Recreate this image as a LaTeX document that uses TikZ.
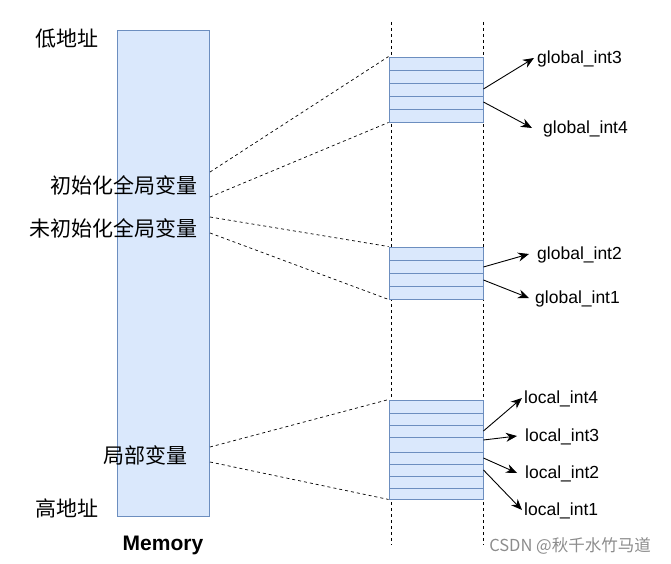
\documentclass[tikz,border=0pt]{standalone}
\usepackage{fontspec}
\setmainfont{Liberation Sans}
\newfontfamily\cjk{Noto Sans CJK SC}
\usetikzlibrary{arrows.meta}
\definecolor{memfill}{HTML}{DAE8FC}
\definecolor{memline}{HTML}{6C8EBF}
\tikzset{
  membox/.style={draw=memline, fill=memfill, line width=0.9pt, inner sep=0pt, minimum width=92pt},
  stackbox/.style={draw=memline, fill=memfill, line width=0.9pt, inner sep=0pt, minimum width=94pt},
  rowline/.style={draw=memline, line width=0.9pt},
  dashln/.style={draw=black, dash pattern=on 3pt off 3pt, line width=0.7pt},
  cnlabel/.style={font=\cjk\fontsize{21}{24}\selectfont, inner sep=0pt},
  varlabel/.style={font=\fontsize{17.5}{20}\selectfont, inner sep=2pt, anchor=west},
  ptr/.style={-{Stealth[length=11pt,width=9pt]}, line width=0.9pt, black},
}
\begin{document}
\begin{tikzpicture}[x=1pt,y=-1pt]
\useasboundingbox (0,0) rectangle (671,564);
% vertical dashed guides
\coordinate (gl1) at (391,22);
\coordinate (gl2) at (391,545);
\coordinate (gr1) at (483,22);
\coordinate (gr2) at (483,545);
\draw[dashln] (gl1) -- (gl2);
\draw[dashln] (gr1) -- (gr2);

% memory bar
\node[membox, minimum height=486pt] (mem) at (163,273) {};
\node[font=\bfseries\fontsize{21}{24}\selectfont, inner sep=0pt] (memt) at (163,545) {Memory};

% stacks
\node[stackbox, minimum height=65pt] (s1) at (436,89.5) {};
\foreach \y in {70,83,96,109} \draw[rowline] (389,\y) -- (483,\y);
\node[stackbox, minimum height=52pt] (s2) at (436,273) {};
\foreach \y in {260,273,286} \draw[rowline] (389,\y) -- (483,\y);
\node[stackbox, minimum height=99pt] (s3) at (436,449.5) {};
\foreach \y in {413,425,437,452,464,476,488} \draw[rowline] (389,\y) -- (483,\y);

% left labels
\node[cnlabel] (low) at (66.5,39) {低地址};
\node[cnlabel] (high) at (66.5,508) {高地址};
\node[cnlabel, anchor=east] (init) at (198,185) {初始化全局变量};
\node[cnlabel, anchor=east] (uninit) at (198,228) {未初始化全局变量};
\node[cnlabel] (local) at (145,455) {局部变量};

% dashed connectors
\coordinate (i1) at (210,172);
\coordinate (i2) at (210,197);
\coordinate (u1) at (210,217);
\coordinate (u2) at (210,233);
\coordinate (l1) at (210,447);
\coordinate (l2) at (210,462);
\draw[dashln] (i1) -- (s1.north west);
\draw[dashln] (i2) -- (s1.south west);
\draw[dashln] (u1) -- (s2.north west);
\draw[dashln] (u2) -- (s2.south west);
\draw[dashln] (l1) -- (s3.north west);
\draw[dashln] (l2) -- (s3.south west);

% variable labels
\node[varlabel] (g3) at (535,59) {global\_int3};
\node[varlabel] (g4) at (541,129) {global\_int4};
\node[varlabel] (g2) at (535,255) {global\_int2};
\node[varlabel] (g1) at (533,299) {global\_int1};
\node[varlabel] (li4) at (522,399) {local\_int4};
\node[varlabel] (li3) at (523,437) {local\_int3};
\node[varlabel] (li2) at (523,474) {local\_int2};
\node[varlabel] (li1) at (522,511) {local\_int1};

% arrows (yshift is upward on the canvas)
\draw[ptr] ([yshift=0.5pt]s1.east) -- ([xshift=-1pt,yshift=1pt]g3.west);
\draw[ptr] ([yshift=-12.5pt]s1.east) -- ([xshift=-9pt,yshift=1pt]g4.west);
\draw[ptr] ([yshift=6pt]s2.east) -- ([xshift=-6pt,yshift=1pt]g2.west);
\draw[ptr] ([yshift=-7pt]s2.east) -- ([xshift=-4pt,yshift=1pt]g1.west);
\draw[ptr] ([yshift=18.5pt]s3.east) -- ([yshift=1pt]li4.west);
\draw[ptr] ([yshift=9.5pt]s3.east) -- ([xshift=-6pt,yshift=1pt]li3.west);
\draw[ptr] ([yshift=-8.5pt]s3.east) -- ([xshift=-6pt,yshift=1pt]li2.west);
\draw[ptr] ([yshift=-20.5pt]s3.east) -- ([yshift=1pt]li1.west);

% watermark
\node[font=\cjk\fontsize{16.5}{19}\selectfont, text=black!45, inner sep=0pt] (wm) at (570,546) {CSDN @秋千水竹马道};
\end{tikzpicture}
\end{document}
